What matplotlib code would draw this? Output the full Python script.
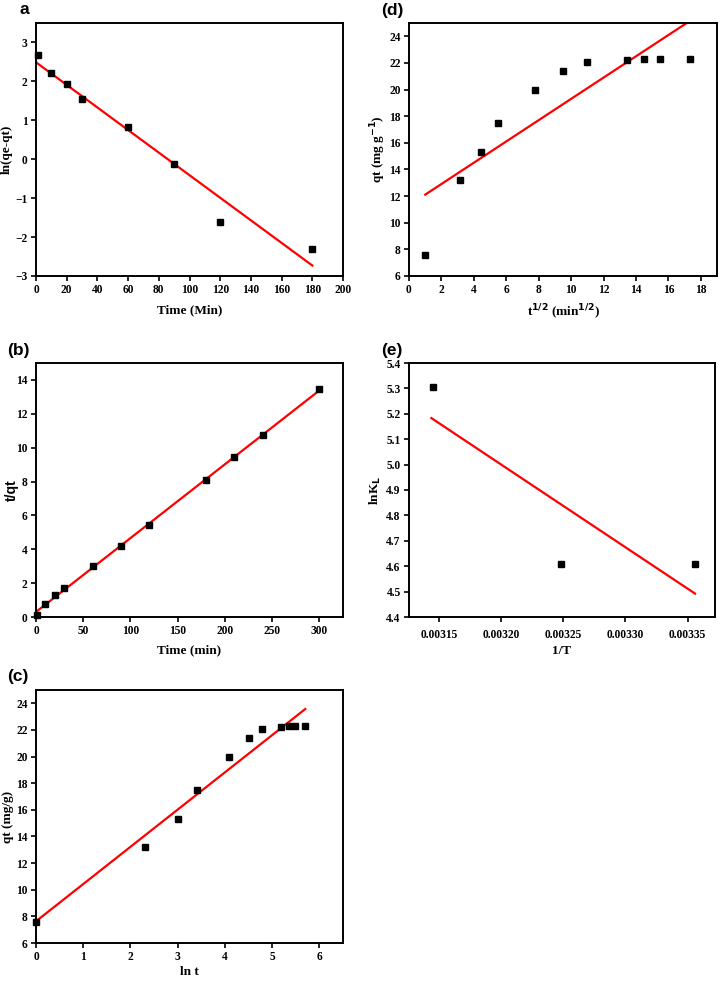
import matplotlib
matplotlib.use("Agg")
import matplotlib.pyplot as plt

# ---------------- data ----------------
# (a) pseudo-first-order
a_time = [1, 10, 20, 30, 60, 90, 120, 180]
a_lnq = [2.68, 2.21, 1.94, 1.56, 0.83, -0.11, -1.62, -2.31]
a_fit_x = [0, 180]
a_fit_y = [2.49, -2.73]

# (b) pseudo-second-order
b_time = [1, 10, 20, 30, 60, 90, 120, 180, 210, 240, 300]
b_tq = [0.14, 0.74, 1.30, 1.72, 2.99, 4.20, 5.43, 8.10, 9.42, 10.77, 13.45]
b_fit_x = [0, 300]
b_fit_y = [0.30, 13.38]

# (c) Elovich
c_lnt = [0, 2.30, 3.00, 3.40, 4.09, 4.50, 4.79, 5.19, 5.35, 5.48, 5.70]
c_qt = [7.58, 13.18, 15.28, 17.48, 19.98, 21.39, 22.07, 22.19, 22.29, 22.29, 22.29]
c_fit_x = [0, 5.70]
c_fit_y = [7.63, 23.57]

# (d) intraparticle diffusion
d_sqrt_t = [1.0, 3.16, 4.47, 5.48, 7.75, 9.49, 10.95, 13.42, 14.49, 15.49, 17.32]
d_qt = [7.57, 13.19, 15.30, 17.51, 20.0, 21.4, 22.1, 22.22, 22.3, 22.3, 22.3]
d_fit_x = [1.0, 17.32]
d_fit_y = [12.11, 25.15]

# (e) van't Hoff
e_invT = [0.003145, 0.003248, 0.003356]
e_lnK = [5.305, 4.609, 4.609]
e_fit_x = [0.003144, 0.003356]
e_fit_y = [5.183, 4.492]

# ---------------- figure ----------------
W, H = 720, 982
fig = plt.figure(figsize=(W / 100, H / 100), dpi=100)

SERIF = ["Liberation Serif", "DejaVu Serif"]
SANS = ["Liberation Sans", "DejaVu Sans"]


def make_ax(left, top, right, bottom):
    ax = fig.add_axes([left / W, 1 - bottom / H, (right - left) / W, (bottom - top) / H])
    ax._px = (left, top, right, bottom)
    return ax


def style(ax, xlim, ylim, xticks, yticks, xlabels=None, ylabels=None):
    ax.set_xlim(*xlim)
    ax.set_ylim(*ylim)
    ax.set_xticks(xticks)
    ax.set_yticks(yticks)
    if xlabels is not None:
        ax.set_xticklabels(xlabels)
    if ylabels is not None:
        ax.set_yticklabels(ylabels)
    for s in ax.spines.values():
        s.set_linewidth(1.4)
    ax.tick_params(direction="out", length=3.5, width=1.2, pad=2.5, labelsize=8.3)
    for lab in ax.get_xticklabels() + ax.get_yticklabels():
        lab.set_fontfamily(SERIF)
        lab.set_fontweight("bold")


def labels(ax, xl, yl, xl_y, yl_x, ykw=None):
    left, top, right, bottom = ax._px
    kw = dict(fontfamily=SERIF, fontweight="bold", fontsize=9.5)
    ax.set_xlabel(xl, **kw)
    ax.set_ylabel(yl, **(ykw or kw))
    ax.xaxis.set_label_coords(0.5, (bottom - xl_y) / (bottom - top))
    ax.yaxis.set_label_coords((yl_x - left) / (right - left), 0.5)
    ax.xaxis.label.set_va("center")
    ax.yaxis.label.set_va("center")


def draw(ax, x, y, fx, fy):
    ax.plot(fx, fy, color="#ff0000", lw=1.6, zorder=2)
    ax.plot(x, y, "s", color="black", ms=4.2, zorder=3, clip_on=False)


def panel_tag(x, y, s):
    fig.text(x / W, 1 - y / H, s, fontfamily=SANS, fontweight="bold", fontsize=12.5, va="center")


# (a)
ax = make_ax(36, 23, 343, 276)
draw(ax, a_time, a_lnq, a_fit_x, a_fit_y)
a_yt = [-3, -2, -1, 0, 1, 2, 3]
style(ax, (0, 200), (-3, 3.5), list(range(0, 201, 20)), a_yt,
      ylabels=[str(v).replace("-", "\u2212") for v in a_yt])
labels(ax, "Time (Min)", "ln(qe-qt)", 310, 7)
panel_tag(19, 10, "a")

# (d)
ax = make_ax(409, 23, 717, 276)
draw(ax, d_sqrt_t, d_qt, d_fit_x, d_fit_y)
style(ax, (0, 19), (6, 25), list(range(0, 19, 2)), list(range(6, 25, 2)))
labels(ax, r"t$^{\mathbf{1/2}}$ (min$^{\mathbf{1/2}}$)", r"qt (mg g$^{\mathbf{-1}}$)", 312, 378)
panel_tag(381, 10, "(d)")

# (b)
ax = make_ax(36, 363, 343, 617)
draw(ax, b_time, b_tq, b_fit_x, b_fit_y)
style(ax, (0, 325), (0, 15), list(range(0, 301, 50)), list(range(0, 15, 2)))
labels(ax, "Time (min)", "t/qt", 650, 12,
       ykw=dict(fontfamily=SANS, fontweight="bold", fontsize=10))
panel_tag(7, 350, "(b)")

# (e)
ax = make_ax(409, 363, 715, 617)
draw(ax, e_invT, e_lnK, e_fit_x, e_fit_y)
e_xt = [0.00315, 0.00320, 0.00325, 0.00330, 0.00335]
e_yt = [4.4, 4.5, 4.6, 4.7, 4.8, 4.9, 5.0, 5.1, 5.2, 5.3, 5.4]
style(ax, (0.003126, 0.003372), (4.4, 5.4), e_xt, e_yt,
      xlabels=["{:.5f}".format(v) for v in e_xt],
      ylabels=["{:.1f}".format(v) for v in e_yt])
ax.tick_params(axis="x", pad=5)
labels(ax, "1/T", r"lnK$_{\mathbf{L}}$", 651, 375)
panel_tag(381, 351, "(e)")

# (c)
ax = make_ax(36, 690, 343, 943)
draw(ax, c_lnt, c_qt, c_fit_x, c_fit_y)
style(ax, (0, 6.5), (6, 25), list(range(0, 7)), list(range(6, 25, 2)))
labels(ax, "ln t", "qt (mg/g)", 972, 8)
panel_tag(7, 676, "(c)")

fig.savefig("out.png", dpi=100, facecolor="white")
